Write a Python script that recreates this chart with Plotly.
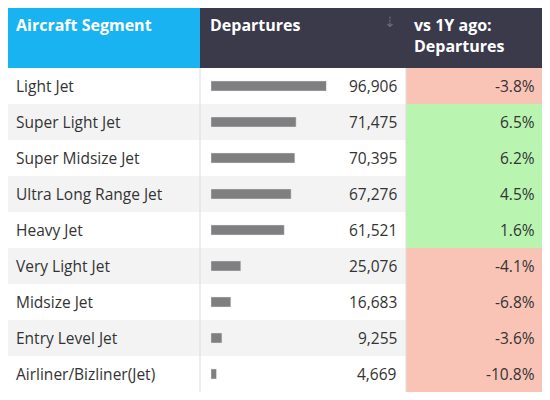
import plotly.graph_objects as go

# ===================== 数据 =====================
segments = ["Light Jet", "Super Light Jet", "Super Midsize Jet", "Ultra Long Range Jet",
            "Heavy Jet", "Very Light Jet", "Midsize Jet", "Entry Level Jet",
            "Airliner/Bizliner(Jet)"]
departures = [96906, 71475, 70395, 67276, 61521, 25076, 16683, 9255, 4669]
yoy_pct = [-3.8, 6.5, 6.2, 4.5, 1.6, -4.1, -6.8, -3.6, -10.8]
headers = ["Aircraft Segment", "Departures", "vs 1Y ago:<br>Departures"]

# 页面有8px边距，所以图缩小一点
REF_W = 550
W, H = 534, 384
HEADER_H = 60
ROW_H = (H - HEADER_H) / len(segments)
col_x = [0, 192, 398, 534]
font = "Open Sans"
txt_col = "#333333"


def px(v):
    # 参考图像素 -> paper 坐标
    return v * W / REF_W / W


rows = list(range(len(segments)))
fig = go.Figure()

# 横向条形（单独的x轴，范围按最大值）
fig.add_trace(go.Bar(
    x=departures, y=rows, orientation="h", xaxis="x2",
    marker_color="#7f7f7f", width=0.28, hoverinfo="skip",
))

top = -0.5 - HEADER_H / ROW_H
shapes = []
# 表头背景
shapes.append(dict(type="rect", xref="paper", yref="y", x0=0, x1=col_x[1] / W,
                   y0=top, y1=-0.5, fillcolor="#1ab3f2", line_width=0, layer="below"))
shapes.append(dict(type="rect", xref="paper", yref="y", x0=col_x[1] / W, x1=1,
                   y0=top, y1=-0.5, fillcolor="#3b3a4b", line_width=0, layer="below"))
for i in rows:
    bg = "#ffffff" if i % 2 == 0 else "#f3f3f3"
    shapes.append(dict(type="rect", xref="paper", yref="y", x0=0, x1=col_x[2] / W,
                       y0=i - 0.5, y1=i + 0.5, fillcolor=bg, line_width=0, layer="below"))
    c = "#b9f5b1" if yoy_pct[i] > 0 else "#f9c4b6"
    shapes.append(dict(type="rect", xref="paper", yref="y", x0=col_x[2] / W, x1=1,
                       y0=i - 0.5, y1=i + 0.5, fillcolor=c, line_width=0, layer="below"))
for cx in col_x[1:3]:
    shapes.append(dict(type="line", xref="paper", yref="y", x0=cx / W, x1=cx / W,
                       y0=-0.5, y1=len(rows) - 0.5, line=dict(color="#dddddd", width=1)))

hfont = dict(color="white", size=16, family=font)
ann = [
    dict(text=f"<b>{headers[0]}</b>", x=px(6), y=1, xref="paper", yref="paper",
         xanchor="left", yanchor="top", yshift=-4, showarrow=False, font=hfont),
    dict(text=f"<b>{headers[1]}</b>", x=px(206), y=1, xref="paper", yref="paper",
         xanchor="left", yanchor="top", yshift=-4, showarrow=False, font=hfont),
    dict(text="⇣", x=px(393), y=1, xref="paper", yref="paper",
         xanchor="center", yanchor="top", yshift=-2, showarrow=False,
         font=dict(color="#6e6d7a", size=14, family=font)),
    dict(text=f"<b>{headers[2]}</b>", x=px(416), y=1, xref="paper", yref="paper",
         xanchor="left", yanchor="top", yshift=-4, showarrow=False, align="left", font=hfont),
]
cfont = dict(color=txt_col, size=15.5, family=font)
for i in rows:
    ann.append(dict(text=segments[i], x=px(6), y=i, xref="paper", yref="y",
                    xanchor="left", showarrow=False, font=cfont))
    ann.append(dict(text=f"{departures[i]:,}", x=px(403), y=i, xref="paper", yref="y",
                    xanchor="right", showarrow=False, font=cfont))
    ann.append(dict(text=f"{yoy_pct[i]:.1f}%", x=px(545), y=i, xref="paper", yref="y",
                    xanchor="right", showarrow=False, font=cfont))

fig.update_layout(
    width=W, height=H, margin=dict(l=0, r=0, t=0, b=0),
    paper_bgcolor="white", plot_bgcolor="white", showlegend=False,
    xaxis=dict(range=[0, 1], visible=False, fixedrange=True),
    xaxis2=dict(domain=[px(209), px(328)], range=[0, max(departures)], visible=False,
                anchor="y", overlaying="x"),
    yaxis=dict(range=[len(rows) - 0.5, top], visible=False, fixedrange=True),
    shapes=shapes, annotations=ann,
)

fig.write_html("out.html")
